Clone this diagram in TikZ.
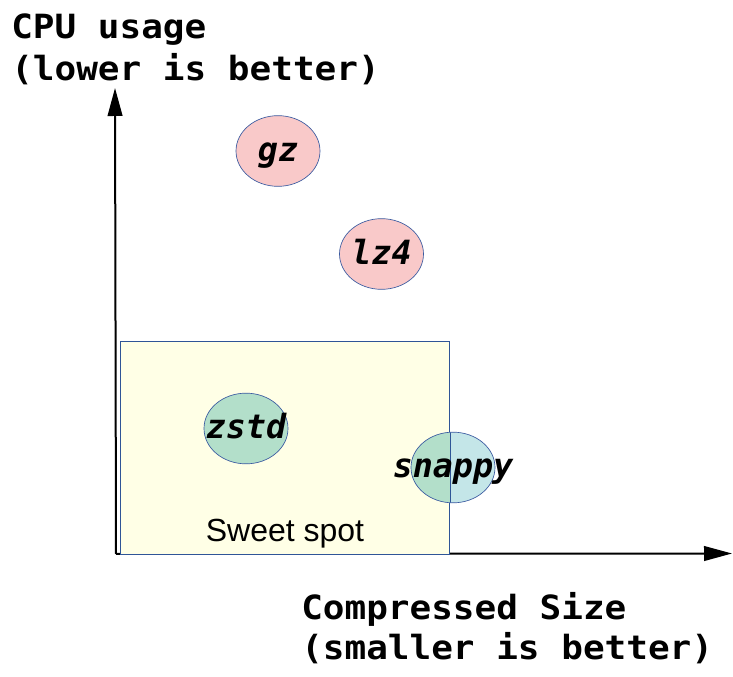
\documentclass[tikz,border=0pt]{standalone}
\usepackage{fontspec}
\setmainfont{Liberation Sans}
\newfontfamily\axisfont[FakeStretch=1.08]{DejaVu Sans Mono Bold}
\newfontfamily\labfont{DejaVu Sans Mono Bold Oblique}
\usetikzlibrary{arrows.meta,shapes.geometric}
\definecolor{spotfill}{HTML}{FFFFE6}
\definecolor{spotline}{HTML}{2F5597}
\definecolor{pinkfill}{HTML}{F9C9C9}
\definecolor{greenfill}{HTML}{B3DFCA}
\definecolor{cyanfill}{HTML}{C4E6E8}
\definecolor{ellline}{HTML}{3A5AA0}
\newcommand{\zw}[1]{\makebox[0pt][c]{#1}}
\tikzset{
  axisline/.style={line width=1.5pt, black, -{Triangle[length=21pt,width=11pt]}},
  axislabel/.style={font=\axisfont\fontsize{25}{31}\selectfont, inner sep=0pt, anchor=base west},
  spotbox/.style={rectangle, draw=spotline, line width=0.75pt, fill=spotfill, inner sep=0pt,
    minimum width=246.75pt, minimum height=159.75pt, anchor=north west},
  algo/.style={ellipse, draw=ellline, line width=0.5pt, inner sep=0pt,
    minimum width=63pt, minimum height=53pt, text height=15.75pt, text depth=0pt,
    font=\labfont\fontsize{25}{30}\selectfont},
  spotlabel/.style={font=\fontsize{24}{28}\selectfont, inner sep=0pt, anchor=base}
}
\begin{document}
\begin{tikzpicture}[x=0.75pt,y=-0.75pt]
\useasboundingbox (0,0) rectangle (733,677);
\coordinate (O) at (116,554);
\coordinate (ytip) at (115,88);
\coordinate (xtip) at (732,553.5);
\draw[axisline] (O) -- (ytip);
\draw[axisline] (O) -- (xtip);
\node[spotbox] (spot) at (120,341) {};
\node[spotlabel] (spottext) at (285,542) {Sweet spot};
\node[algo, fill=pinkfill] (gz) at (278,151) {\zw{gz}};
\node[algo, fill=pinkfill] (lz4) at (381.5,254) {\zw{lz4}};
\node[algo, fill=greenfill] (zstd) at (246,428.5) {\zw{zstd}};
\node[algo, fill=cyanfill,
  path picture={
    \fill[greenfill] (path picture bounding box.north west) rectangle (spot.east |- path picture bounding box.south);
    \draw[spotline, line width=0.75pt] (spot.north east) -- (spot.south east);
  }] (snappy) at (453,467.5) {\zw{snappy}};
\node[axislabel] (ylab1) at (11,39) {CPU usage};
\node[axislabel] (ylab2) at (11,81) {(lower is better)};
\node[axislabel] (xlab1) at (301,619) {Compressed Size};
\node[axislabel] (xlab2) at (301,660) {(smaller is better)};
\end{tikzpicture}
\end{document}
